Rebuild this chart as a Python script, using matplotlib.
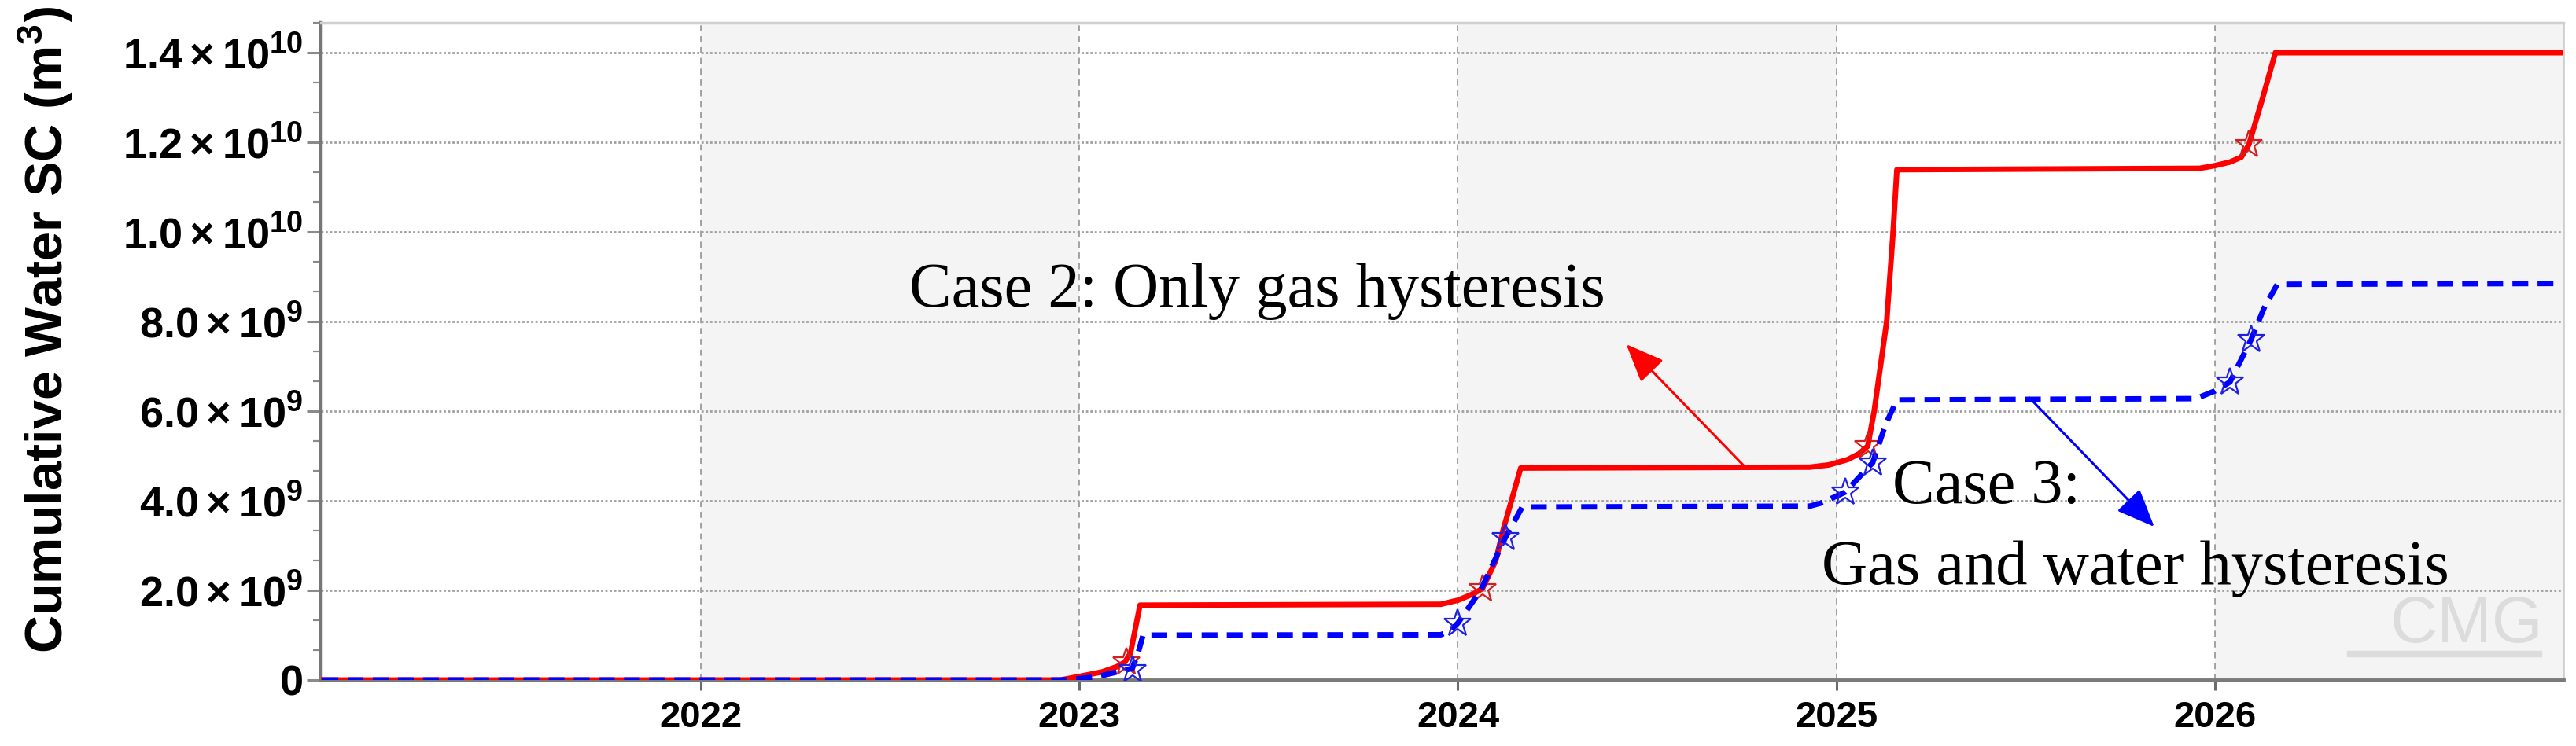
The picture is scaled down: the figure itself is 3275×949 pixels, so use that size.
import matplotlib
matplotlib.use("Agg")
import matplotlib.pyplot as plt
from matplotlib.ticker import FixedLocator, FixedFormatter, MultipleLocator
from matplotlib.lines import Line2D

plt.rcParams['font.family'] = ['Liberation Sans', 'DejaVu Sans']
plt.rcParams['mathtext.fontset'] = 'custom'
plt.rcParams['mathtext.rm'] = 'Liberation Sans:bold'
plt.rcParams['mathtext.it'] = 'Liberation Sans:bold'
plt.rcParams['mathtext.bf'] = 'Liberation Sans:bold'

# Case 2: only gas hysteresis (red), time in years, volume in 1e9 m3
t_case2 = [2021.0, 2022.95, 2023.0, 2023.06, 2023.10, 2023.12, 2023.135, 2023.16,
           2023.955, 2024.0, 2024.04, 2024.065, 2024.1, 2024.12, 2024.166,
           2024.93, 2024.98, 2025.03, 2025.06, 2025.083, 2025.1, 2025.133, 2025.15, 2025.16,
           2025.96, 2026.0, 2026.04, 2026.07, 2026.09, 2026.125, 2026.16, 2026.92]
v_case2 = [0.0, 0.0, 0.08, 0.18, 0.3, 0.4, 0.6, 1.67,
           1.69, 1.78, 1.92, 2.04, 2.66, 3.36, 4.73,
           4.75, 4.8, 4.92, 5.05, 5.22, 6.0, 8.0, 10.0, 11.39,
           11.42, 11.48, 11.56, 11.67, 11.95, 12.95, 14.0, 14.0]
t_case2_mark = [2023.125, 2024.065, 2025.083, 2026.09]
v_case2_mark = [0.4, 2.04, 5.22, 11.95]

# Case 3: gas and water hysteresis (blue)
t_case3 = [2021.0, 2022.95, 2023.0, 2023.05, 2023.1, 2023.14, 2023.155, 2023.168,
           2023.955, 2023.98, 2024.0, 2024.06, 2024.125, 2024.17,
           2024.93, 2024.96, 2025.023, 2025.096, 2025.13, 2025.16,
           2025.95, 2026.0, 2026.04, 2026.096, 2026.13, 2026.165, 2026.92]
v_case3 = [0.0, 0.0, 0.03, 0.08, 0.18, 0.26, 0.6, 1.0,
           1.01, 1.1, 1.27, 2.0, 3.17, 3.86,
           3.88, 3.95, 4.19, 4.85, 5.7, 6.25,
           6.28, 6.45, 6.65, 7.6, 8.3, 8.83, 8.85]
t_case3_mark = [2023.14, 2024.0, 2024.125, 2025.023, 2025.096, 2026.04, 2026.096]
v_case3_mark = [0.22, 1.27, 3.17, 4.19, 4.85, 6.65, 7.6]

years = [2022, 2023, 2024, 2025, 2026]
y_ticks = [0, 2e9, 4e9, 6e9, 8e9, 1e10, 1.2e10, 1.4e10]
y_labels = ['0', r'$2.0\times10^{9}$', r'$4.0\times10^{9}$', r'$6.0\times10^{9}$',
            r'$8.0\times10^{9}$', r'$1.0\times10^{10}$', r'$1.2\times10^{10}$',
            r'$1.4\times10^{10}$']

fig = plt.figure(figsize=(32.75, 9.49), dpi=100)
ax = fig.add_axes([0.1246, 0.0885, 0.8705, 0.8809])
x0, x1 = 2020.996, 2026.921
ax.set_xlim(x0, x1)
ax.set_ylim(0, 1.4667e10)

# alternating background bands
edges = [x0] + years + [x1]
for i in range(len(edges) - 1):
    if i % 2 == 1:
        ax.axvspan(edges[i], edges[i + 1], color='#f4f4f4', zorder=0, lw=0)

ax.grid(axis='y', which='major', color='#a0a0a0', linestyle=(0, (1, 1)), lw=2.0, zorder=1)
ax.grid(axis='x', which='major', color='#8a8a8a', linestyle=(0, (5, 4)), lw=1.1, zorder=1)

s = 1e9
ax.plot(t_case2, [v * s for v in v_case2], color='#ff0000', lw=5, zorder=3,
        solid_joinstyle='round')
ax.plot(t_case2_mark, [v * s for v in v_case2_mark], ls='none', marker='*', ms=26,
        mfc='none', mec='#d02020', mew=1.6, zorder=4)
ax.plot(t_case3, [v * s for v in v_case3], color='#0000ff', lw=5, zorder=5,
        dashes=(2.9, 1.7))
ax.plot(t_case3_mark, [v * s for v in v_case3_mark], ls='none', marker='*', ms=26,
        mfc='none', mec='#2020e0', mew=1.6, zorder=6)

# annotations
serif = ['Liberation Serif', 'DejaVu Serif']
ax.text(2023.0 - (1372 - 1156) / 481, (865 - 390) / 57 * 1e9, 'Case 2: Only gas hysteresis',
        family=serif, fontsize=58, ha='left', va='baseline', zorder=7)
ax.text(2025.0 + (2407 - 2336) / 481, (865 - 640) / 57 * 1e9, 'Case 3:',
        family=serif, fontsize=58, ha='left', va='baseline', zorder=7)
ax.text(2025.0 - (2336 - 2317) / 481, (865 - 743) / 57 * 1e9, 'Gas and water hysteresis',
        family=serif, fontsize=58, ha='left', va='baseline', zorder=7)

ax.annotate('', xy=(2024.445, 7.49e9), xytext=(2024.757, 4.77e9),
            arrowprops=dict(arrowstyle='-|>,head_length=0.6,head_width=0.25',
                            color='#ff0000', lw=2.2, mutation_scale=50, shrinkA=0, shrinkB=0),
            zorder=7)
ax.annotate('', xy=(2025.84, 3.42e9), xytext=(2025.51, 6.3e9),
            arrowprops=dict(arrowstyle='-|>,head_length=0.6,head_width=0.25',
                            color='#0000ff', lw=2.2, mutation_scale=50, shrinkA=0, shrinkB=0),
            zorder=7)

# CMG watermark
ax.text(0.957, 0.057, 'CMG', transform=ax.transAxes, fontsize=60, color='#dcdcdc',
        family=['Liberation Sans', 'DejaVu Sans'], ha='center', va='baseline', zorder=2)
ax.add_line(Line2D([0.905, 0.989], [0.040, 0.040], transform=ax.transAxes,
                   color='#dcdcdc', lw=6, zorder=2))

# axes styling
ax.yaxis.set_major_locator(FixedLocator(y_ticks))
ax.yaxis.set_major_formatter(FixedFormatter(y_labels))
ax.yaxis.set_minor_locator(MultipleLocator(2e9 / 3))
ax.xaxis.set_major_locator(FixedLocator(years))
ax.set_xticklabels([str(y) for y in years])
ax.tick_params(axis='y', which='major', length=13, width=2.2, color='#8a8a8a', pad=3,
               labelsize=39)
ax.tick_params(axis='y', which='minor', length=7, width=1.6, color='#8a8a8a')
ax.tick_params(axis='x', which='major', length=9, width=2.2, color='#6a6a6a', pad=10,
               labelsize=34)
for lab in ax.get_xticklabels():
    lab.set_fontweight('bold')
for lab in ax.get_yticklabels():
    lab.set_fontweight('bold')

ax.spines['left'].set_color('#777777')
ax.spines['left'].set_linewidth(3.2)
ax.spines['bottom'].set_color('#7a7a7a')
ax.spines['bottom'].set_linewidth(3.5)
ax.spines['top'].set_color('#cfcfcf')
ax.spines['top'].set_linewidth(2.5)
ax.spines['right'].set_color('#cfcfcf')
ax.spines['right'].set_linewidth(2.0)

fig.text(58 / 3275, 1 - 420 / 949, r'Cumulative Water SC (m$^{3}$)', rotation=90,
         ha='center', va='center', fontsize=48, fontweight='bold')

fig.savefig('out.png', dpi=100, facecolor='white')
